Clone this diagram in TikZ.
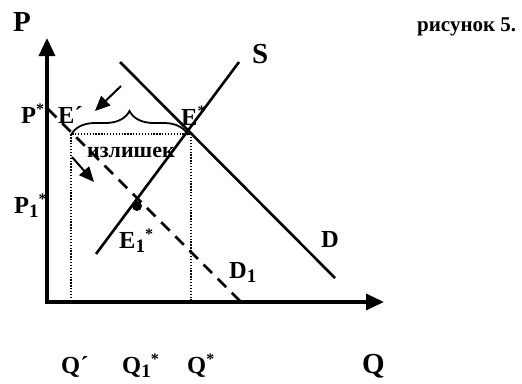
\documentclass[tikz,border=0pt]{standalone}
\usepackage{fontspec}
\setmainfont{Liberation Serif}
\usetikzlibrary{arrows.meta,decorations.pathreplacing}
\newcommand{\lsub}[1]{\raisebox{-4pt}{\fontsize{19}{19}\selectfont #1}}
\newcommand{\ustar}{\raisebox{9pt}{\fontsize{16}{16}\selectfont *}}
\begin{document}
\begin{tikzpicture}[x=1pt,y=-1pt,
  lbl/.style={inner sep=0pt, anchor=base west, font=\fontsize{24.5}{24.5}\selectfont\bfseries},
  big/.style={lbl, font=\fontsize{29}{29}\selectfont\bfseries},
  axisline/.style={line width=3.4pt, line join=miter, {Triangle[length=18pt,width=16pt]}-{Triangle[length=18pt,width=16pt]}},
  curve/.style={line width=2.6pt},
  dashcurve/.style={line width=2.6pt, dash pattern=on 12pt off 8pt},
  dotline/.style={line width=1.3pt, dash pattern=on 1.3pt off 1.6pt},
  bracestyle/.style={line width=1.8pt, decorate, decoration={brace, amplitude=24pt, aspect=0.5}},
  shiftarrow/.style={line width=2pt, -{Triangle[length=15pt,width=13pt]}}]
\useasboundingbox (0,0) rectangle (522,383);
% axes
\coordinate (Ptop) at (47,38);
\coordinate (O) at (47,302);
\coordinate (Qend) at (384,302);
\draw[axisline] (Ptop) -- (O) -- (Qend);
% supply
\coordinate (Sa) at (96,254);
\coordinate (Sb) at (239,62);
\draw[curve] (Sa) -- (Sb);
% demand
\coordinate (Da) at (120,62);
\coordinate (Db) at (335,278);
\draw[curve] (Da) -- (Db);
% shifted demand
\coordinate (Dda) at (48,109);
\coordinate (Ddb) at (240,301);
\draw[dashcurve] (Dda) -- (Ddb);
% dotted rectangle
\coordinate (A0) at (71,301);
\coordinate (A) at (71,134);
\coordinate (B) at (191,134);
\coordinate (B0) at (191,301);
\draw[dotline] (A0) -- (A) -- (B) -- (B0);
% brace
\coordinate (Bl) at (71,135);
\coordinate (Br) at (188,135);
\draw[bracestyle] (Bl) -- (Br);
% arrows
\coordinate (a1s) at (121,86);
\coordinate (a1e) at (95,111);
\draw[shiftarrow] (a1s) -- (a1e);
\coordinate (a2s) at (72,157);
\coordinate (a2e) at (94,182);
\draw[shiftarrow] (a2s) -- (a2e);
% equilibrium dot
\node[circle, fill, inner sep=0pt, minimum size=10pt] (E1dot) at (137,206) {};
% labels
\node[big] (Plab) at (13,31) {P};
\node[big] (Qlab) at (362,373) {Q};
\node[big] (Slab) at (252,63) {S};
\node[lbl, font=\fontsize{21}{21}\selectfont\bfseries] (fig) at (417,31) {рисунок 5.};
\node[lbl] (Pstar) at (21,123) {P\ustar};
\node[lbl] (Eprime) at (58,123) {E´};
\node[lbl] (Estar) at (181,125) {E\ustar};
\node[lbl, font=\fontsize{22}{22}\selectfont\bfseries] (surplus) at (87,157) {излишек};
\node[lbl] (P1star) at (14,213) {P\lsub{1}\ustar};
\node[lbl] (E1star) at (119,248) {E\lsub{1}\ustar};
\node[lbl] (Dlab) at (321,247) {D};
\node[lbl] (D1lab) at (229,278) {D\lsub{1}};
\node[lbl] (Qprime) at (61,373) {Q´};
\node[lbl] (Q1star) at (122,373) {Q\lsub{1}\ustar};
\node[lbl] (Qstar) at (187,373) {Q\ustar};
\end{tikzpicture}
\end{document}
